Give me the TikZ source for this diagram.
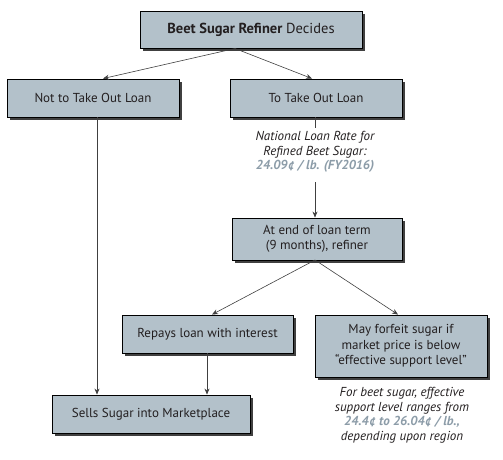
\documentclass[tikz,border=0pt]{standalone}
\usepackage{fontspec}
\setmainfont{PT Sans}
\usetikzlibrary{shadows,arrows.meta}
\definecolor{boxfill}{HTML}{B3C1CA}
\definecolor{numcol}{HTML}{8C9CA8}
\definecolor{txt}{HTML}{231F20}
\tikzset{
  box/.style={draw=black, line width=0.9pt, fill=boxfill, text=txt, align=center,
    font=\fontsize{13}{15.5}\selectfont, inner sep=0pt,
    drop shadow={shadow xshift=2.5pt, shadow yshift=-2.5pt, fill=black!75, opacity=1}},
  arr/.style={draw=black!75, line width=0.6pt, -{Stealth[length=6pt,width=5pt]}},
  ln/.style={draw=black!75, line width=0.6pt},
  note/.style={align=center, text=txt, font=\fontsize{13}{14.5}\selectfont\itshape},
}
\begin{document}
\begin{tikzpicture}[x=1pt,y=-1pt]
\useasboundingbox (0,0) rectangle (503,459);
\node[box, minimum width=222pt, minimum height=37pt, font=\fontsize{14.5}{17}\selectfont] (top) at (251,29.5) {\textbf{Beet Sugar Refiner} Decides};
\node[box, minimum width=172pt, minimum height=38pt] (not) at (93,98) {Not to Take Out Loan};
\node[box, minimum width=172pt, minimum height=38pt] (take) at (316,98) {To Take Out Loan};
\node[note] (rate) at (315,152) {National Loan Rate for\\Refined Beet Sugar:\\\textcolor{numcol}{\bfseries 24.09¢ / lb. (FY2016)}};
\node[box, minimum width=170pt, minimum height=42pt] (end) at (317,239) {At end of loan term\\(9 months), refiner};
\node[box, minimum width=171pt, minimum height=38pt] (repay) at (207.5,334) {Repays loan with interest};
\node[box, minimum width=172pt, minimum height=62pt] (forfeit) at (401,346) {May forfeit sugar if\\market price is below\\“effective support level”};
\node[box, minimum width=198pt, minimum height=38pt] (sells) at (151,414) {Sells Sugar into Marketplace};
\node[note] (range) at (402,415) {For beet sugar, effective\\support level ranges from\\\textcolor{numcol}{\bfseries 24.4¢ to 26.04¢ / lb.,}\\depending upon region};
\coordinate (j1) at (235,48.5);
\coordinate (j2) at (315,260);
\draw[arr] (j1) -- (not.north -| 103,0);
\draw[arr] (j1) -- (take.north -| 312,0);
\draw[ln] (take.south -| 315,0) -- (315,128);
\draw[arr] (315,182) -- (end.north -| 315,0);
\draw[arr] (j2) -- (repay.north -| 212,0);
\draw[arr] (j2) -- (forfeit.north -| 398,0);
\draw[arr] (not.south -| 97,0) -- (sells.north -| 97,0);
\draw[arr] (repay.south -| 207,0) -- (sells.north -| 207,0);
\end{tikzpicture}
\end{document}
